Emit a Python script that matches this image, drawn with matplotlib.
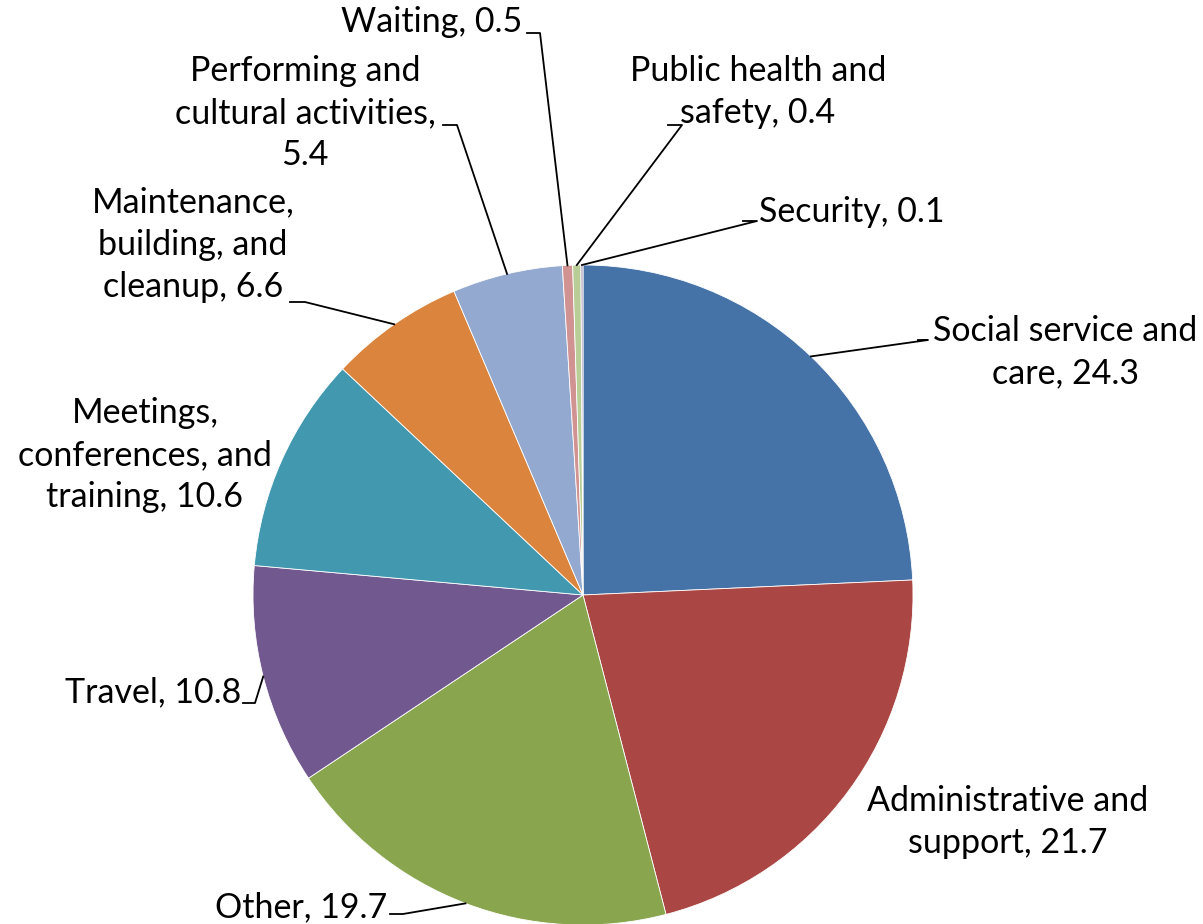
import numpy as np
import matplotlib.pyplot as plt

# slice data, clockwise from 12 o'clock
categories = ['Social service and\ncare', 'Administrative and\nsupport', 'Other', 'Travel',
              'Meetings,\nconferences, and\ntraining', 'Maintenance,\nbuilding, and\ncleanup',
              'Performing and\ncultural activities,\n', 'Waiting', 'Public health and\nsafety',
              'Security']
values = [24.3, 21.7, 19.7, 10.8, 10.6, 6.6, 5.4, 0.5, 0.4, 0.1]
colors = ['#4572A7', '#AA4643', '#89A54E', '#71588F', '#4198AF', '#DB843D',
          '#93A9CF', '#D19392', '#B9CD96', '#A99BBD']

W, H = 1203, 924
cx, cy, R = 583, H - 595, 330

fig = plt.figure(figsize=(W / 100, H / 100), dpi=100)
ax = fig.add_axes([0, 0, 1, 1])

wedges, _ = ax.pie(values, colors=colors, startangle=90, counterclock=False,
                   center=(cx, cy), radius=R, frame=True,
                   wedgeprops=dict(edgecolor='white', linewidth=0.6))
ax.set_xlim(0, W)
ax.set_ylim(0, H)
ax.set_aspect('equal')
ax.axis('off')

plt.rcParams['font.family'] = 'Lato'
fs = 24.5

# label layout: text centre (x, y from top), leader elbow (x, y from top) or None, elbow length
layout = [
    (1065, 352, (918, 340), 10),
    (1008, 822, None, 0),
    (301, 907, (390, 914), 13),
    (153, 692, (243, 703), 12),
    (145, 455, None, 0),
    (193, 245, (290, 302), 15),
    (305, 113, (443, 125), 14),
    (432, 22, (527, 33), 13),
    (758, 92, (668, 125), 14),
    (852, 212, (743, 221), 14),
]

for w, cat, val, (tx, ty, elbow, seg) in zip(wedges, categories, values, layout):
    if cat.endswith('\n'):
        txt = cat + f'{val}'
    else:
        txt = f'{cat}, {val}'
    ax.text(tx, H - ty, txt, ha='center', va='center', fontsize=fs, linespacing=1.4,
            color='black')
    if elbow is not None:
        ang = np.deg2rad((w.theta1 + w.theta2) / 2)
        px = cx + R * np.cos(ang)
        py = cy + R * np.sin(ang)
        ex, ey = elbow
        ax.plot([ex, ex + seg, px], [H - ey, H - ey, py], color='black', lw=1.3)

fig.savefig('out.png', dpi=100)
